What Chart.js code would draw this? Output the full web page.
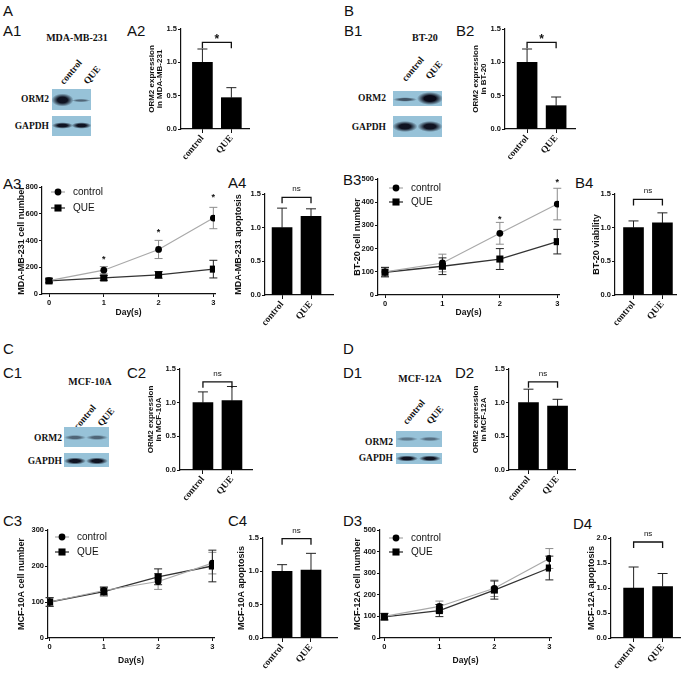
<!DOCTYPE html>
<html>
<head>
<meta charset="utf-8">
<script src="https://cdn.jsdelivr.net/npm/chart.js@4.4.1/dist/chart.umd.min.js"></script>
<style>
  html, body { margin: 0; padding: 0; background: #fff; }
  #fig { position: relative; width: 686px; height: 676px; overflow: hidden; color: #111;
         font-family: "Liberation Sans", Arial, sans-serif; }
</style>
</head>
<body>
<div id="fig"></div>
<script>
const groups = ['control', 'QUE'];
const days = [0, 1, 2, 3];

// tick labels
const ticks15 = [0, 0.5, 1.0, 1.5];
const ticks20 = [0, 0.5, 1.0, 1.5, 2.0];
const a3Ticks = [0, 200, 400, 600, 800];
const b3Ticks = [0, 100, 200, 300, 400, 500];
const c3Ticks = [0, 100, 200, 300];
const d3Ticks = [0, 100, 200, 300, 400, 500];

// ORM2 expression (mean, SD)
const a2Mean = [1.0, 0.47], a2Sd = [0.20, 0.15];
const b2Mean = [1.0, 0.35], b2Sd = [0.20, 0.13];
const c2Mean = [1.0, 1.03], c2Sd = [0.16, 0.21];
const d2Mean = [1.0, 0.95], d2Sd = [0.20, 0.10];

// apoptosis / viability (mean, SD)
const a4Mean = [1.0, 1.17], a4Sd = [0.29, 0.11];
const b4Mean = [1.0, 1.07], b4Sd = [0.10, 0.15];
const c4Mean = [1.0, 1.02], c4Sd = [0.10, 0.25];
const d4Mean = [1.0, 1.03], d4Sd = [0.42, 0.26];

// significance: [label, bracket level]
const a2Sig = ['*', 1.3], b2Sig = ['*', 1.3], c2Sig = ['ns', 1.31], d2Sig = ['ns', 1.31];
const a4Sig = ['ns', 1.45], b4Sig = ['ns', 1.42], c4Sig = ['ns', 1.49], d4Sig = ['ns', 1.92];

// cell number per day
const a3Ctl = [100, 178, 333, 568], a3CtlSd = [12, 27, 68, 80];
const a3Que = [98, 120, 143, 186],  a3QueSd = [15, 18, 25, 66];
const a3Star = [null, 278, 482, 738];
const b3Ctl = [100, 138, 266, 392], b3CtlSd = [20, 38, 47, 68];
const b3Que = [98, 124, 155, 230],  b3QueSd = [20, 36, 45, 53];
const b3Star = [null, null, 337, 496];
const c3Ctl = [100, 132, 157, 208], c3CtlSd = [12, 10, 22, 30];
const c3Que = [100, 129, 170, 200], c3QueSd = [12, 12, 22, 44];
const d3Ctl = [100, 146, 230, 368], d3CtlSd = [15, 25, 38, 46];
const d3Que = [98, 127, 222, 324],  d3QueSd = [15, 28, 42, 55];

const sans = '"Liberation Sans", Arial, sans-serif';
const serif = '"Liberation Serif", "Times New Roman", serif';
Chart.defaults.font.family = sans;
Chart.defaults.color = '#111';

const fig = document.getElementById('fig');

function put(html, css) {
  const d = document.createElement('div');
  d.textContent = html;
  d.style.cssText = 'position:absolute;white-space:nowrap;' + css;
  fig.appendChild(d);
  return d;
}

function addCanvas(l, t, w, h) {
  const c = document.createElement('canvas');
  c.width = w; c.height = h;
  c.style.cssText = `position:absolute;left:${l}px;top:${t}px;width:${w}px;height:${h}px`;
  fig.appendChild(c);
  return c;
}

// error bars, brackets, stars and the small in-plot legend
const marks = {
  id: 'marks',
  beforeDatasetsDraw(chart, args, o) {
    const ctx = chart.ctx, ys = chart.scales.y;
    chart.data.datasets.forEach((ds, di) => {
      const meta = chart.getDatasetMeta(di);
      ctx.save();
      ctx.strokeStyle = ds.errColor;
      ctx.lineWidth = 1;
      ds.errs.forEach((e, i) => {
        const x = meta.data[i].x, v = ds.data[i].y;
        const yt = ys.getPixelForValue(v + e);
        const yb = ys.getPixelForValue(o.both ? v - e : v);
        ctx.beginPath();
        ctx.moveTo(x, yt); ctx.lineTo(x, yb);
        ctx.moveTo(x - o.cap, yt); ctx.lineTo(x + o.cap, yt);
        if (o.both) { ctx.moveTo(x - o.cap, yb); ctx.lineTo(x + o.cap, yb); }
        ctx.stroke();
      });
      ctx.restore();
    });
  },
  afterDatasetsDraw(chart, args, o) {
    const ctx = chart.ctx, xs = chart.scales.x, ys = chart.scales.y, ca = chart.chartArea;
    ctx.save();
    ctx.fillStyle = '#111';
    ctx.strokeStyle = '#111';
    ctx.textAlign = 'center';
    ctx.textBaseline = 'alphabetic';
    if (o.sig) {
      const [txt, lvl] = o.sig;
      const x0 = xs.getPixelForValue(0), x1 = xs.getPixelForValue(1), y = ys.getPixelForValue(lvl);
      ctx.lineWidth = 1.3;
      ctx.beginPath();
      ctx.moveTo(x0, y + 6); ctx.lineTo(x0, y); ctx.lineTo(x1, y); ctx.lineTo(x1, y + 6);
      ctx.stroke();
      if (txt === '*') {
        ctx.font = 'bold 12px ' + sans;
        ctx.fillText(txt, (x0 + x1) / 2, y + 1);
      } else {
        ctx.font = '8px ' + sans;
        ctx.fillText(txt, (x0 + x1) / 2, y - 6);
      }
    }
    if (o.stars) {
      ctx.font = 'bold 9px ' + sans;
      o.stars.forEach((v, i) => {
        if (v == null) return;
        ctx.fillText('*', xs.getPixelForValue(days[i]), ys.getPixelForValue(v) + 5);
      });
    }
    if (o.legend) {
      const [dx, dy, gap] = o.legend;
      chart.data.datasets.forEach((ds, i) => {
        const mx = ca.left + dx, my = ca.top + dy + i * gap;
        ctx.strokeStyle = ds.borderColor;
        ctx.lineWidth = ds.borderWidth;
        ctx.beginPath(); ctx.moveTo(mx - 7, my); ctx.lineTo(mx + 7, my); ctx.stroke();
        ctx.fillStyle = '#000';
        if (ds.pointStyle === 'rect') {
          const s = ds.pointRadius * Math.SQRT1_2;
          ctx.fillRect(mx - s, my - s, 2 * s, 2 * s);
        } else {
          ctx.beginPath(); ctx.arc(mx, my, ds.pointRadius, 0, Math.PI * 2); ctx.fill();
        }
        ctx.font = '10px ' + sans;
        ctx.textAlign = 'left';
        ctx.textBaseline = 'middle';
        ctx.fillStyle = '#111';
        ctx.fillText(ds.label, mx + 15, my);
      });
    }
    ctx.restore();
  }
};
Chart.register(marks);

const axisLook = {
  grid: { drawOnChartArea: false, drawTicks: true, tickLength: 3, color: '#111', lineWidth: 1 },
  border: { display: true, color: '#111', width: 1.2 }
};

// keep the plot area where the margins put it
function fitX(h) {
  return s => { s.height = h; s.paddingLeft = 0; s.paddingRight = 0; };
}
function fitY(w) {
  return s => { s.width = w; s.paddingTop = 0; s.paddingBottom = 0; };
}

function barChart(p) {
  const unit = 29, MT = 30, MR = 6, MB = 46;
  const two = Array.isArray(p.title);
  const fs = two ? 8 : 9;
  const ML = Math.round(p.axisX - (p.titleX - fs / 2));
  const w = Math.round((p.xmax - p.xmin) * unit);
  const cv = addCanvas(p.axisX - ML, p.top - MT, ML + w + MR, MT + (p.bottom - p.top) + MB);
  new Chart(cv, {
    type: 'bar',
    data: {
      datasets: [{
        data: p.mean.map((m, i) => ({ x: i, y: m })),
        errs: p.sd, errColor: '#222',
        backgroundColor: '#000', borderWidth: 0, barThickness: 20
      }]
    },
    options: {
      responsive: false, animation: false, devicePixelRatio: 1, events: [],
      layout: { padding: { top: MT, right: MR, left: 0, bottom: 0 } },
      plugins: { legend: { display: false }, tooltip: { enabled: false },
                 marks: { both: false, cap: 5, sig: p.sig } },
      scales: {
        x: {
          type: 'linear', min: p.xmin, max: p.xmax, offset: false,
          afterBuildTicks: s => { s.ticks = groups.map((g, i) => ({ value: i })); },
          afterFit: fitX(MB),
          ticks: { callback: v => groups[v], autoSkip: false, minRotation: 50, maxRotation: 50,
                   padding: 0, color: '#111', font: { family: serif, weight: 'bold', size: 9.5 } },
          grid: { ...axisLook.grid, tickLength: 4, offset: false }, border: axisLook.border
        },
        y: {
          min: 0, max: p.yTicks[p.yTicks.length - 1],
          afterBuildTicks: s => { s.ticks = p.yTicks.map(v => ({ value: v })); },
          afterFit: fitY(ML),
          ticks: { callback: v => v.toFixed(1), padding: 1, color: '#111',
                   font: { weight: 'bold', size: 7.5 } },
          title: { display: true, text: p.title, padding: 0, color: '#111',
                   font: { weight: 'bold', size: fs, lineHeight: 1 } },
          ...axisLook
        }
      }
    }
  });
}

function lineChart(p) {
  const MT = 14, MR = 8, fs = 9;
  const ML = Math.round(p.axisX - (p.titleX - fs / 2));
  const MB = Math.round(p.dayY - p.bottom + 4.5);
  const w = Math.round((p.xmax - p.xmin) * p.unit);
  const cv = addCanvas(p.axisX - ML, p.top - MT, ML + w + MR, MT + (p.bottom - p.top) + MB);
  new Chart(cv, {
    type: 'line',
    data: {
      datasets: [
        { label: 'control', data: days.map((d, i) => ({ x: d, y: p.ctl[i] })),
          errs: p.ctlSd, errColor: '#8c8c8c', borderColor: '#a9a9a9', borderWidth: 1.2,
          pointStyle: 'circle', pointRadius: 3.4, pointBackgroundColor: '#000', pointBorderWidth: 0 },
        { label: 'QUE', data: days.map((d, i) => ({ x: d, y: p.que[i] })),
          errs: p.queSd, errColor: '#222', borderColor: '#333', borderWidth: 1.3,
          pointStyle: 'rect', pointRadius: 5, pointBackgroundColor: '#000', pointBorderWidth: 0 }
      ]
    },
    options: {
      responsive: false, animation: false, devicePixelRatio: 1, events: [],
      layout: { padding: { top: MT, right: MR, left: 0, bottom: 0 } },
      plugins: { legend: { display: false }, tooltip: { enabled: false },
                 marks: { both: true, cap: 4, stars: p.stars, legend: p.legend } },
      scales: {
        x: {
          type: 'linear', min: p.xmin, max: p.xmax, offset: false,
          afterBuildTicks: s => { s.ticks = days.map(v => ({ value: v })); },
          afterFit: fitX(MB),
          ticks: { padding: 1, color: '#111', font: { weight: 'bold', size: 7.5 } },
          title: { display: true, text: 'Day(s)', padding: 0, color: '#111',
                   font: { weight: 'bold', size: 8.5, lineHeight: 1 } },
          grid: { ...axisLook.grid, tickLength: 3 }, border: axisLook.border
        },
        y: {
          min: 0, max: p.yTicks[p.yTicks.length - 1],
          afterBuildTicks: s => { s.ticks = p.yTicks.map(v => ({ value: v })); },
          afterFit: fitY(ML),
          ticks: { padding: 1, color: '#111', font: { weight: 'bold', size: 7.5 } },
          title: { display: true, text: p.title, padding: 0, color: '#111',
                   font: { weight: 'bold', size: fs, lineHeight: 1 } },
          ...axisLook
        }
      }
    }
  });
}

// western blot panels (image-like, drawn with css)
function blot(b) {
  put(b.title, `left:${b.tx}px;top:${b.ty}px;transform:translate(-50%,-50%);font:bold 10px/10px ${serif}`);
  b.lanes.forEach(([t, cx, cy]) =>
    put(t, `left:${cx}px;top:${cy}px;transform:translate(-50%,-50%) rotate(-50deg);font:bold 9.5px/10px ${serif}`));
  b.strips.forEach(s => {
    const bg = s.bands.map(([cx, cy, rx, ry, a]) =>
      `radial-gradient(ellipse ${rx}px ${ry}px at ${cx}px ${cy}px, rgba(8,10,24,${a}) 0%, rgba(8,10,24,${a}) 45%, rgba(8,10,24,0) 100%)`).join(',');
    put('', `left:${b.x}px;top:${s.y}px;width:${b.w}px;height:${s.h}px;background:${bg},#97c2d8;`);
    put(s.name, `left:${b.lx}px;top:${s.ly}px;transform:translate(-100%,-50%);font:bold 9.5px/10px ${serif}`);
  });
}

// panel letters
[['A', 3, 3], ['A1', 3, 23], ['A2', 127, 23], ['A3', 3, 176], ['A4', 228, 175],
 ['B', 344, 3], ['B1', 344, 23], ['B2', 456, 23], ['B3', 343, 172], ['B4', 575, 175],
 ['C', 3, 341], ['C1', 3, 365], ['C2', 127, 365], ['C3', 3, 513], ['C4', 228, 513],
 ['D', 343, 341], ['D1', 343, 365], ['D2', 455, 365], ['D3', 343, 513], ['D4', 573, 516]]
  .forEach(([t, x, y]) => put(t, `left:${x}px;top:${y}px;font-size:15px;line-height:15px;`));

blot({ title: 'MDA-MB-231', tx: 77, ty: 38, x: 52, w: 39, lx: 49,
  lanes: [['control', 71, 71.5], ['QUE', 91.5, 75]],
  strips: [
    { name: 'ORM2', y: 89, h: 21, ly: 99, bands: [[10.5, 11, 11, 6.5, 0.95], [29, 11.5, 9.5, 1.6, 0.5]] },
    { name: 'GAPDH', y: 116, h: 20, ly: 126, bands: [[10.5, 9.5, 10.5, 3.2, 0.95], [29.5, 9.5, 10, 3.2, 0.95]] }
  ] });
blot({ title: 'BT-20', tx: 425, ty: 38, x: 393, w: 49, lx: 386,
  lanes: [['control', 413, 69], ['QUE', 434, 70]],
  strips: [
    { name: 'ORM2', y: 91, h: 15, ly: 98, bands: [[12, 8.5, 12, 2.2, 0.6], [37, 7.5, 13, 6.5, 1]] },
    { name: 'GAPDH', y: 116, h: 21, ly: 127, bands: [[12, 10.5, 12.5, 5.5, 0.95], [37, 10.5, 12.5, 5.5, 0.95]] }
  ] });
blot({ title: 'MCF-10A', tx: 90, ty: 382, x: 64, w: 45, lx: 62,
  lanes: [['control', 85, 416.5], ['QUE', 105.5, 416.5]],
  strips: [
    { name: 'ORM2', y: 427, h: 20, ly: 438, bands: [[11, 10.5, 11, 2.5, 0.5], [33, 10.5, 11, 2.5, 0.5]] },
    { name: 'GAPDH', y: 453, h: 14, ly: 461, bands: [[11, 8, 11, 3.5, 0.95], [33, 8, 11, 3.5, 0.95]] }
  ] });
blot({ title: 'MCF-12A', tx: 420, ty: 379, x: 396, w: 46, lx: 393,
  lanes: [['control', 414, 411.5], ['QUE', 434.5, 414.5]],
  strips: [
    { name: 'ORM2', y: 431, h: 16, ly: 442, bands: [[11, 8, 11, 2.2, 0.4], [34, 8, 11, 2.2, 0.45]] },
    { name: 'GAPDH', y: 453, h: 11, ly: 458, bands: [[11, 5.5, 11, 3, 0.95], [34, 5.5, 11, 3, 0.95]] }
  ] });

barChart({ axisX: 181, top: 29, bottom: 129, xmin: -0.74, xmax: 1.61, titleX: 152,
  title: ['ORM2 expression', 'in MDA-MB-231'], mean: a2Mean, sd: a2Sd, sig: a2Sig, yTicks: ticks15 });
barChart({ axisX: 505, top: 29, bottom: 129, xmin: -0.76, xmax: 1.65, titleX: 476,
  title: ['ORM2 expression', 'in BT-20'], mean: b2Mean, sd: b2Sd, sig: b2Sig, yTicks: ticks15 });
barChart({ axisX: 180, top: 369, bottom: 470, xmin: -0.79, xmax: 1.69, titleX: 151,
  title: ['ORM2 expression', 'in MCF-10A'], mean: c2Mean, sd: c2Sd, sig: c2Sig, yTicks: ticks15 });
barChart({ axisX: 509, top: 369, bottom: 470, xmin: -0.67, xmax: 1.6, titleX: 476,
  title: ['ORM2 expression', 'in MCF-12A'], mean: d2Mean, sd: d2Sd, sig: d2Sig, yTicks: ticks15 });

barChart({ axisX: 265, top: 194, bottom: 295, xmin: -0.59, xmax: 1.76, titleX: 239,
  title: 'MDA-MB-231 apoptosis', mean: a4Mean, sd: a4Sd, sig: a4Sig, yTicks: ticks15 });
barChart({ axisX: 615, top: 194, bottom: 295, xmin: -0.64, xmax: 1.47, titleX: 597,
  title: 'BT-20 viability', mean: b4Mean, sd: b4Sd, sig: b4Sig, yTicks: ticks15 });
barChart({ axisX: 263, top: 538, bottom: 638, xmin: -0.66, xmax: 1.9, titleX: 242,
  title: 'MCF-10A apoptosis', mean: c4Mean, sd: c4Sd, sig: c4Sig, yTicks: ticks15 });
barChart({ axisX: 611, top: 538, bottom: 638, xmin: -0.78, xmax: 1.6, titleX: 592,
  title: 'MCF-12A apoptosis', mean: d4Mean, sd: d4Sd, sig: d4Sig, yTicks: ticks20 });

lineChart({ axisX: 42, top: 187, bottom: 294, xmin: -0.128, xmax: 3.03, unit: 54.67, titleX: 22, dayY: 312,
  title: 'MDA-MB-231 cell number', ctl: a3Ctl, ctlSd: a3CtlSd, que: a3Que, queSd: a3QueSd,
  stars: a3Star, legend: [16, 5, 16], yTicks: a3Ticks });
lineChart({ axisX: 378, top: 179, bottom: 295, xmin: -0.122, xmax: 3.03, unit: 57.3, titleX: 358, dayY: 312,
  title: 'BT-20 cell number', ctl: b3Ctl, ctlSd: b3CtlSd, que: b3Que, queSd: b3QueSd,
  stars: b3Star, legend: [18, 9, 14], yTicks: b3Ticks });
lineChart({ axisX: 48, top: 530, bottom: 638, xmin: -0.03, xmax: 3.03, unit: 54.2, titleX: 22, dayY: 660,
  title: 'MCF-10A cell number', ctl: c3Ctl, ctlSd: c3CtlSd, que: c3Que, queSd: c3QueSd,
  stars: null, legend: [14, 7, 15], yTicks: c3Ticks });
lineChart({ axisX: 380, top: 530, bottom: 638, xmin: -0.08, xmax: 3.03, unit: 55, titleX: 358, dayY: 660,
  title: 'MCF-12A cell number', ctl: d3Ctl, ctlSd: d3CtlSd, que: d3Que, queSd: d3QueSd,
  stars: null, legend: [16, 8, 14], yTicks: d3Ticks });
</script>
</body>
</html>
